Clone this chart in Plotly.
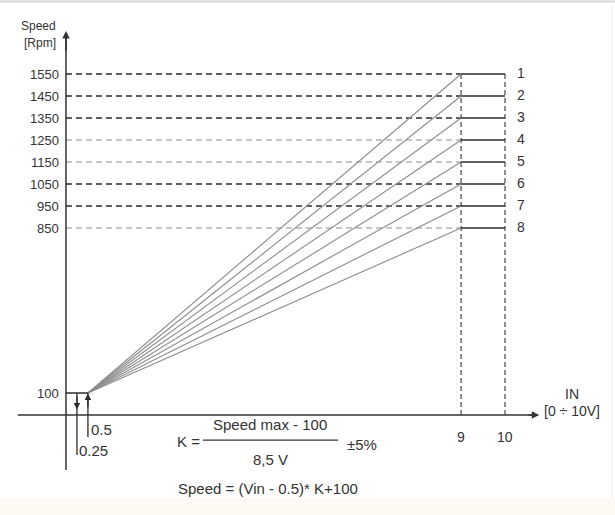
import plotly.graph_objects as go

# curves: max speed reached at 9 V
curve_names = ["1", "2", "3", "4", "5", "6", "7", "8"]
max_speeds = [1550, 1450, 1350, 1250, 1150, 1050, 950, 850]
guide_dark = [True, True, True, False, False, True, True, False]

v_start = 0.5      # V where the ramp starts
v_min = 0.25       # switch-off threshold
v_full = 9         # V where max speed is reached
v_end = 10
speed_start = 100

x_ticks = [9, 10]
x_tick_text = ["9", "10"]

DARK = "#2b2b2b"
LIGHT = "#b4b4b4"
RAMP = "#8c8c8c"
TXT = "#333333"
FONT = "Liberation Sans, Arial, sans-serif"

fig = go.Figure()

# dashed guides from the speed axis to 9 V
for s, dark in zip(max_speeds, guide_dark):
    fig.add_trace(go.Scatter(
        x=[0, v_full], y=[s, s], mode="lines",
        line=dict(color=DARK if dark else LIGHT, width=1.3, dash="6px,4px"),
        hoverinfo="skip"))

# vertical dashed lines at 9 V and 10 V
for v in [v_full, v_end]:
    fig.add_trace(go.Scatter(
        x=[v, v], y=[0, max(max_speeds)], mode="lines",
        line=dict(color="#555555", width=1.3, dash="5px,3px"),
        hoverinfo="skip"))

# ramps
for s in max_speeds:
    fig.add_trace(go.Scatter(
        x=[v_start, v_full], y=[speed_start, s], mode="lines",
        line=dict(color=RAMP, width=1.1), hoverinfo="skip"))

# flat part 9-10 V
for s in max_speeds:
    fig.add_trace(go.Scatter(
        x=[v_full, v_end], y=[s, s], mode="lines",
        line=dict(color=DARK, width=1.5), hoverinfo="skip"))

# start level at 100 rpm and the two threshold markers
fig.add_trace(go.Scatter(x=[0, v_start], y=[speed_start, speed_start], mode="lines",
                         line=dict(color=DARK, width=1.5), hoverinfo="skip"))
fig.add_trace(go.Scatter(x=[v_min, v_min], y=[speed_start, -182], mode="lines",
                         line=dict(color=DARK, width=1.3), hoverinfo="skip"))
fig.add_trace(go.Scatter(x=[v_start, v_start], y=[speed_start, -100], mode="lines",
                         line=dict(color=DARK, width=1.3), hoverinfo="skip"))

# axes lines
fig.add_trace(go.Scatter(x=[-1.1, 10.7], y=[0, 0], mode="lines",
                         line=dict(color=TXT, width=1.5), hoverinfo="skip"))
fig.add_trace(go.Scatter(x=[0, 0], y=[-250, 1720], mode="lines",
                         line=dict(color=TXT, width=1.5), hoverinfo="skip"))

ann = []
# axis arrowheads
ann.append(dict(x=10.78, y=0, ax=10.5, ay=0, xref="x", yref="y", axref="x", ayref="y",
                showarrow=True, arrowhead=2, arrowsize=1, arrowwidth=1.5,
                arrowcolor=TXT, text=""))
ann.append(dict(x=0, y=1745, ax=0, ay=1650, xref="x", yref="y", axref="x", ayref="y",
                showarrow=True, arrowhead=2, arrowsize=1, arrowwidth=1.5,
                arrowcolor=TXT, text=""))
# threshold arrows
ann.append(dict(x=v_min, y=25, ax=v_min, ay=90, xref="x", yref="y", axref="x", ayref="y",
                showarrow=True, arrowhead=2, arrowsize=1, arrowwidth=1.3,
                arrowcolor=DARK, text=""))
ann.append(dict(x=v_start, y=98, ax=v_start, ay=30, xref="x", yref="y", axref="x", ayref="y",
                showarrow=True, arrowhead=2, arrowsize=1, arrowwidth=1.3,
                arrowcolor=DARK, text=""))

# speed tick labels
for s in max_speeds + [speed_start]:
    ann.append(dict(x=-0.12, y=s, xref="x", yref="y", text=str(s), showarrow=False,
                    xanchor="right", font=dict(size=13, color=TXT, family=FONT)))
# curve numbers
for s, n in zip(max_speeds, curve_names):
    ann.append(dict(x=10.36, y=s + 3, xref="x", yref="y", text=n, showarrow=False,
                    font=dict(size=14, color=TXT, family=FONT)))
# x ticks
for v, t in zip(x_ticks, x_tick_text):
    ann.append(dict(x=v, y=-100, xref="x", yref="y", text=t, showarrow=False,
                    font=dict(size=14, color=TXT, family=FONT)))

texts = [
    (-0.62, 1768, "Speed", "center", 12),
    (-0.6, 1691, "[Rpm]", "center", 12),
    (11.53, 95, "IN", "center", 14),
    (11.53, 18, "[0 ÷ 10V]", "center", 14),
    (0.52, -65, "0.5", "left", 15),
    (0.25, -160, "0.25", "left", 15),
    (2.78, -120, "K =", "center", 15),
    (4.65, -42, "Speed max - 100", "center", 15),
    (4.65, -200, "8,5 V", "center", 15),
    (6.74, -136, "±5%", "center", 15),
    (4.6, -334, "Speed = (Vin - 0.5)* K+100", "center", 15),
]
for x, y, t, anc, sz in texts:
    ann.append(dict(x=x, y=y, xref="x", yref="y", text=t, showarrow=False, xanchor=anc,
                    font=dict(size=sz, color=TXT, family=FONT)))

shapes = [
    # fraction bar
    dict(type="line", xref="x", yref="y", x0=3.12, x1=6.2, y0=-114, y1=-114,
         line=dict(color=TXT, width=1.3)),
    # faint frame top and pale bottom strip
    dict(type="line", xref="paper", yref="paper", x0=0, x1=1, y0=0.997, y1=0.997,
         line=dict(color="#d6d6d6", width=2)),
    dict(type="rect", xref="paper", yref="paper", x0=0, x1=1, y0=0, y1=0.033,
         fillcolor="#fcfaf2", line=dict(width=0), layer="below"),
    dict(type="line", xref="paper", yref="paper", x0=0.995, x1=0.995, y0=0.033, y1=1,
         line=dict(color="#eeeeee", width=1)),
]

fig.update_layout(
    width=615, height=515,
    margin=dict(l=0, r=0, t=0, b=0),
    paper_bgcolor="white", plot_bgcolor="white",
    showlegend=False,
    xaxis=dict(range=[-1.503, 12.506], visible=False, fixedrange=True),
    yaxis=dict(range=[-454.5, 1886.4], visible=False, fixedrange=True),
    annotations=ann, shapes=shapes,
)

fig.write_html("out.html", config={"displayModeBar": False},
               post_script="document.body.style.margin='0';")
